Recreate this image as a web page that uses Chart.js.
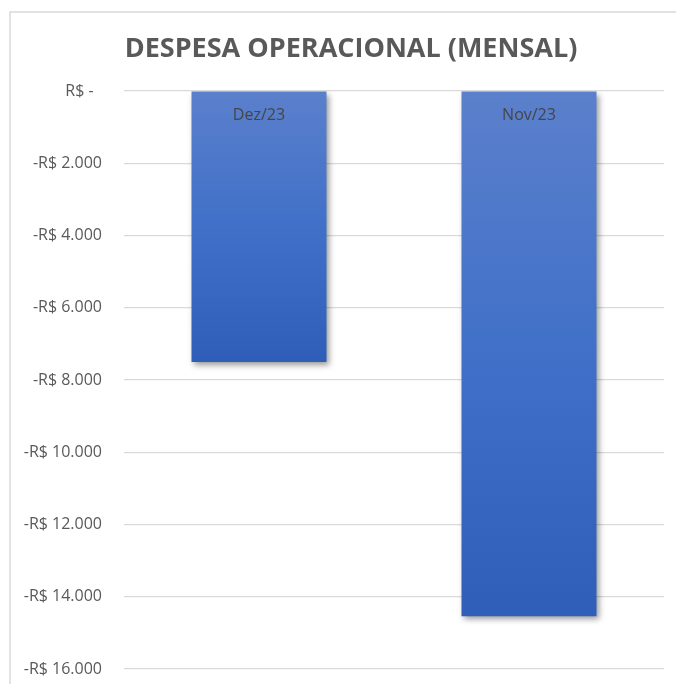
<!DOCTYPE html>
<html>
<head>
<meta charset="utf-8">
<script src="https://cdn.jsdelivr.net/npm/chart.js@4.4.1/dist/chart.umd.min.js"></script>
<style>
  html, body { margin: 0; padding: 0; background: #fff; }
  #wrap { width: 676px; height: 684px; position: relative; }
</style>
</head>
<body>
<div id="wrap"><canvas id="grafico"></canvas></div>
<script>
// dados do grafico
const meses = ['Dez/23', 'Nov/23'];
const despesas = [-7500, -14540];
const rotulosEixoY = ['R$ -  ', '-R$ 2.000', '-R$ 4.000', '-R$ 6.000', '-R$ 8.000',
  '-R$ 10.000', '-R$ 12.000', '-R$ 14.000', '-R$ 16.000'];
const titulo = 'DESPESA OPERACIONAL (MENSAL)';

const fonte = "'Open Sans', 'Liberation Sans', sans-serif";

// moldura + titulo
const moldura = {
  id: 'moldura',
  beforeDraw(chart) {
    const ctx = chart.ctx;
    ctx.save();
    ctx.strokeStyle = '#d9d9d9';
    ctx.lineWidth = 1.5;
    ctx.beginPath();
    ctx.moveTo(10, chart.height + 5);
    ctx.lineTo(10, 12);
    ctx.lineTo(chart.width + 5, 12);
    ctx.stroke();
    ctx.fillStyle = '#595959';
    ctx.font = "bold 27px " + fonte;
    ctx.textAlign = 'center';
    ctx.textBaseline = 'middle';
    ctx.fillText(titulo, 351, 49);
    ctx.restore();
  }
};

// sombra das barras
const sombra = {
  id: 'sombra',
  beforeDatasetsDraw(chart) {
    const ctx = chart.ctx;
    ctx.save();
    ctx.shadowColor = 'rgba(0,0,0,0.4)';
    ctx.shadowBlur = 6;
    ctx.shadowOffsetX = 2;
    ctx.shadowOffsetY = 3;
  },
  afterDatasetsDraw(chart) {
    chart.ctx.restore();
  }
};

// rotulos das categorias no topo das barras
const rotulosMes = {
  id: 'rotulosMes',
  afterDatasetsDraw(chart) {
    const ctx = chart.ctx;
    const x = chart.scales.x;
    const y = chart.scales.y;
    ctx.save();
    ctx.fillStyle = '#454545';
    ctx.font = "16px " + fonte;
    ctx.textAlign = 'center';
    ctx.textBaseline = 'middle';
    meses.forEach((m, i) => {
      ctx.fillText(m, x.getPixelForValue(i), y.getPixelForValue(0) + 24);
    });
    ctx.restore();
  }
};

function gradiente(context) {
  const chart = context.chart;
  const y = chart.scales.y;
  if (!chart.chartArea || !y) return '#4472c4';
  const topo = y.getPixelForValue(0);
  const base = y.getPixelForValue(context.raw);
  const g = chart.ctx.createLinearGradient(0, topo, 0, base);
  g.addColorStop(0, '#5b80cc');
  g.addColorStop(0.5, '#4070c8');
  g.addColorStop(1, '#2e5eb8');
  return g;
}

new Chart(document.getElementById('grafico'), {
  type: 'bar',
  data: {
    labels: meses,
    datasets: [{
      data: despesas,
      backgroundColor: gradiente,
      borderWidth: 0,
      barPercentage: 1,
      categoryPercentage: 0.5
    }]
  },
  options: {
    responsive: true,
    maintainAspectRatio: false,
    animation: false,
    layout: { padding: { top: 91, right: 12, bottom: 15, left: 0 } },
    plugins: {
      legend: { display: false },
      tooltip: { enabled: false },
      title: { display: false }
    },
    scales: {
      x: {
        display: false
      },
      y: {
        min: -16000,
        max: 0,
        afterFit(scale) {
          scale.width = 124;
          scale.paddingTop = 0;
          scale.paddingBottom = 0;
        },
        border: { display: false },
        grid: { color: '#d9d9d9', lineWidth: 1.2, drawTicks: false },
        ticks: {
          stepSize: 2000,
          padding: 22,
          color: '#595959',
          font: { family: fonte, size: 16 },
          callback: (v) => rotulosEixoY[Math.round(-v / 2000)]
        }
      }
    }
  },
  plugins: [moldura, sombra, rotulosMes]
});
</script>
</body>
</html>
